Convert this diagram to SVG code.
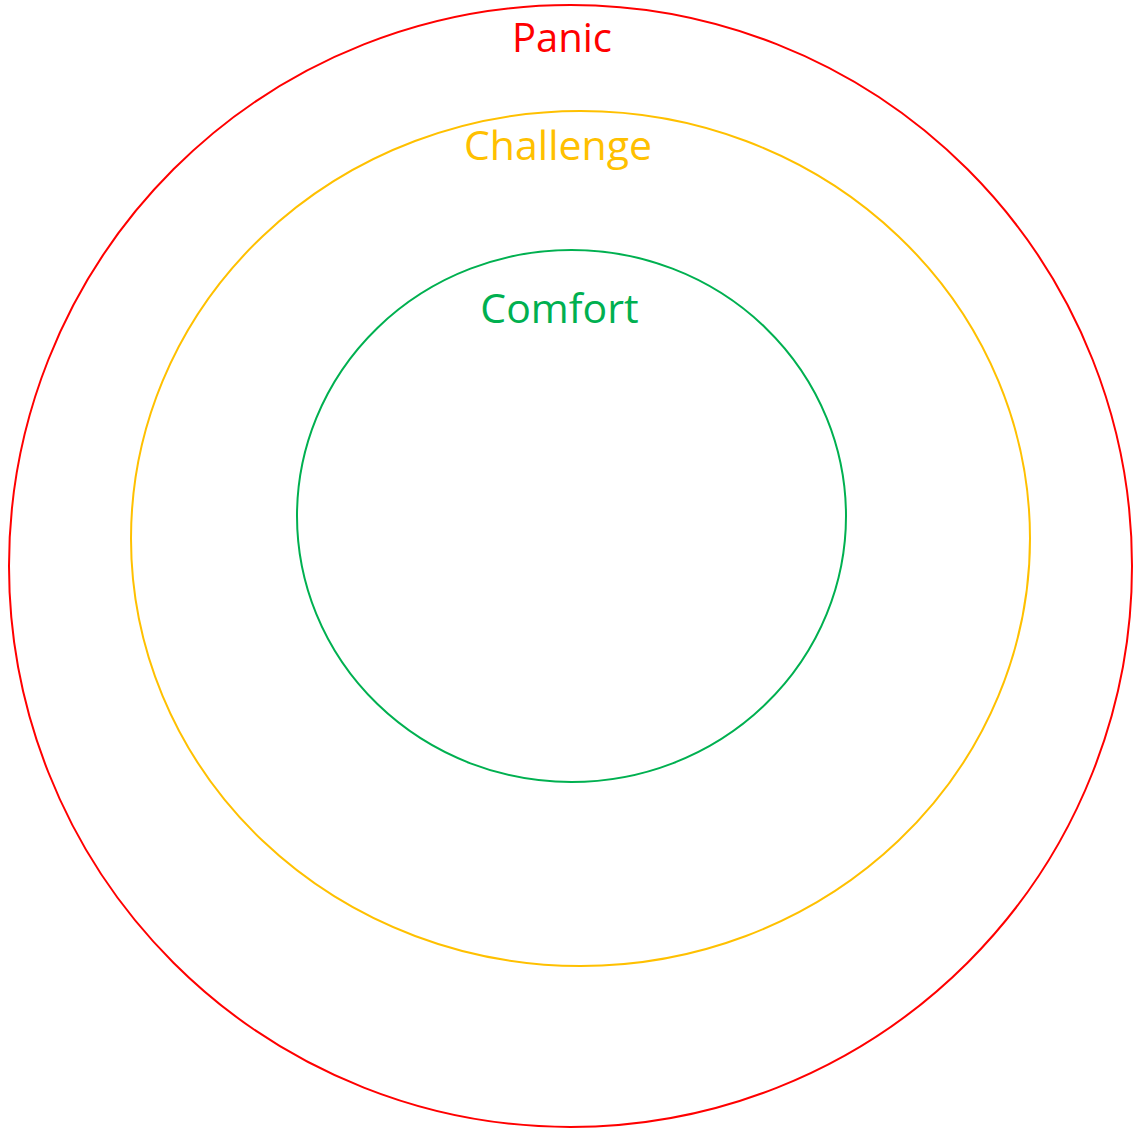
<svg xmlns="http://www.w3.org/2000/svg" width="1135" height="1130" viewBox="0 0 1135 1130">
<style>
.ring{fill:none;stroke-width:2}
.lbl{font-family:"Open Sans","Liberation Sans",sans-serif;text-anchor:middle}
</style>
<rect width="1135" height="1130" fill="#ffffff"/>
<g id="panic">
<ellipse class="ring" cx="570.5" cy="566" rx="561.5" ry="561" stroke="#FF0000"/>
<text class="lbl" x="562" y="52" font-size="40" fill="#FF0000">Panic</text>
</g>
<g id="challenge">
<ellipse class="ring" cx="580.5" cy="538.5" rx="449.5" ry="427.5" stroke="#FFC000"/>
<text class="lbl" x="558" y="160" font-size="41" fill="#FFC000">Challenge</text>
</g>
<g id="comfort">
<ellipse class="ring" cx="571.5" cy="516" rx="274.5" ry="266" stroke="#00B050"/>
<text class="lbl" x="559.5" y="323" font-size="41" fill="#00B050">Comfort</text>
</g>
<g id="connectors"/>
</svg>
